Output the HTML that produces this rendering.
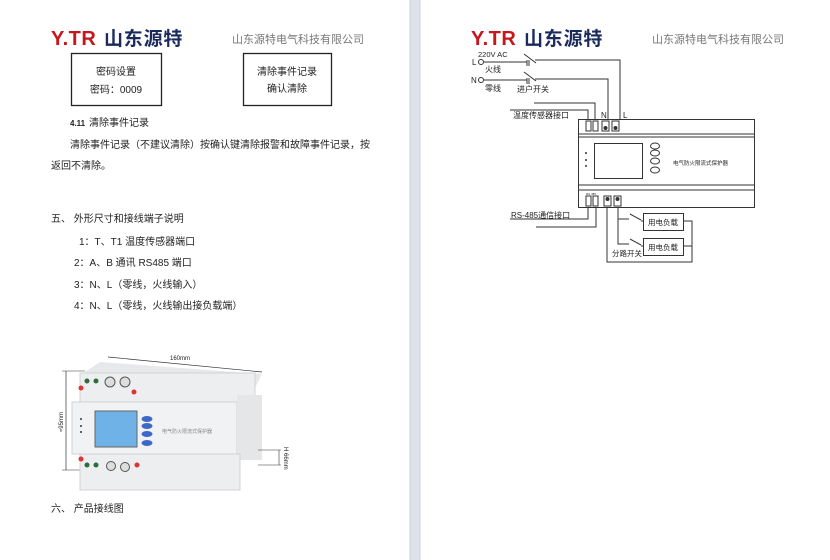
<!DOCTYPE html>
<html><head><meta charset="utf-8"><style>
html,body{margin:0;padding:0;background:#fff;}
svg{display:block}
text{font-family:"Liberation Sans","Noto Sans CJK SC",sans-serif;fill:#222}
</style></head><body>
<svg width="830" height="560" viewBox="0 0 830 560" xmlns="http://www.w3.org/2000/svg">
<rect width="830" height="560" fill="#fff"/>
<rect x="410" y="0" width="10" height="560" fill="#dde3e8"/>
<line x1="410" y1="0" x2="410" y2="560" stroke="#c9d0d6"/>
<line x1="420" y1="0" x2="420" y2="560" stroke="#cfd3d6"/>

<!-- LEFT PAGE -->
<text x="51" y="45" font-size="20" font-weight="bold" letter-spacing="0.5" style="fill:#c8161d">Y.TR</text>
<text x="104" y="45" font-size="19" font-weight="bold" letter-spacing="0.8" style="fill:#1a2a5c">山东源特</text>
<text x="232" y="43" font-size="11" style="fill:#777">山东源特电气科技有限公司</text>
<rect x="71.5" y="53.5" width="90" height="52" fill="none" stroke="#222" stroke-width="1.3"/>
<text x="116" y="75" font-size="10" text-anchor="middle">密码设置</text>
<text x="116" y="93" font-size="10" text-anchor="middle">密码：0009</text>
<rect x="243.5" y="53.5" width="88" height="52" fill="none" stroke="#222" stroke-width="1.3"/>
<text x="287" y="75" font-size="10" text-anchor="middle">清除事件记录</text>
<text x="287" y="92" font-size="10" text-anchor="middle">确认清除</text>
<text x="70" y="126" font-size="8" font-weight="bold">4.11</text>
<text x="89" y="126" font-size="10">清除事件记录</text>
<text x="70" y="148" font-size="10">清除事件记录（不建议清除）按确认键清除报警和故障事件记录，按</text>
<text x="51" y="169" font-size="10">返回不清除。</text>
<text x="51" y="222" font-size="10">五、  外形尺寸和接线端子说明</text>
<text x="79" y="245" font-size="10">1：T、T1 温度传感器端口</text>
<text x="74" y="266" font-size="10">2：A、B 通讯 RS485 端口</text>
<text x="74" y="288" font-size="10">3：N、L（零线，火线输入）</text>
<text x="74" y="309" font-size="10">4：N、L（零线，火线输出接负载端）</text>

<!-- device photo -->
<line x1="108" y1="357" x2="262" y2="372" stroke="#333" stroke-width="0.7"/>
<text x="170" y="360" font-size="6">160mm</text>
<line x1="66" y1="371" x2="66" y2="470" stroke="#333" stroke-width="0.7"/>
<line x1="62" y1="371" x2="85" y2="371" stroke="#333" stroke-width="0.5"/>
<line x1="62" y1="470" x2="85" y2="470" stroke="#333" stroke-width="0.5"/>
<text x="0" y="0" font-size="6" transform="translate(63,432) rotate(-90)">≈95mm</text>
<polygon points="85,372 100,362 262,374 255,388 85,380" fill="#e6e8ea"/>
<rect x="80" y="373" width="175" height="30" fill="#eceef0" stroke="#d0d3d6"/>
<rect x="72" y="402" width="165" height="52" fill="#f1f2f3" stroke="#cfd2d5"/>
<rect x="237" y="395" width="25" height="65" fill="#e4e6e8"/>
<rect x="80" y="454" width="160" height="36" fill="#eceef0" stroke="#d0d3d6"/>
<circle cx="87" cy="381" r="2.5" fill="#2c6b3c"/><circle cx="96" cy="381" r="2.5" fill="#2c6b3c"/>
<circle cx="110" cy="382" r="5" fill="#ddd" stroke="#555"/><circle cx="125" cy="382" r="5" fill="#ddd" stroke="#555"/>
<circle cx="81" cy="388" r="2.5" fill="#d33"/><circle cx="134" cy="392" r="2.5" fill="#d33"/>
<rect x="95" y="411" width="42" height="36" fill="#6fb2e8" stroke="#666"/>
<ellipse cx="147" cy="419" rx="5.5" ry="3" fill="#3d67c8"/>
<ellipse cx="147" cy="426" rx="5.5" ry="3" fill="#3d67c8"/>
<ellipse cx="147" cy="434" rx="5.5" ry="3" fill="#3d67c8"/>
<ellipse cx="147" cy="443" rx="5.5" ry="3" fill="#3d67c8"/>
<text x="162" y="433" font-size="5" style="fill:#888">电气防火限流式保护器</text>
<circle cx="81" cy="419" r="1" fill="#333"/><circle cx="81" cy="426" r="1" fill="#333"/><circle cx="81" cy="432" r="1" fill="#333"/>
<circle cx="81" cy="459" r="2.5" fill="#d33"/>
<circle cx="87" cy="465" r="2.5" fill="#2c6b3c"/><circle cx="96" cy="465" r="2.5" fill="#2c6b3c"/>
<circle cx="111" cy="466" r="4.5" fill="#ddd" stroke="#555"/><circle cx="125" cy="467" r="4.5" fill="#ddd" stroke="#555"/>
<circle cx="137" cy="465" r="2.5" fill="#d33"/>
<line x1="258" y1="450" x2="281" y2="450" stroke="#333" stroke-width="0.5"/>
<line x1="258" y1="465" x2="281" y2="465" stroke="#333" stroke-width="0.5"/>
<line x1="279" y1="450" x2="279" y2="465" stroke="#333" stroke-width="0.6"/>
<text x="0" y="0" font-size="6" transform="translate(284,447) rotate(90)">H 66mm</text>
<text x="51" y="512" font-size="10">六、  产品接线图</text>

<!-- RIGHT PAGE -->
<text x="471" y="45" font-size="20" font-weight="bold" letter-spacing="0.5" style="fill:#c8161d">Y.TR</text>
<text x="524" y="45" font-size="19" font-weight="bold" letter-spacing="0.8" style="fill:#1a2a5c">山东源特</text>
<text x="652" y="43" font-size="11" style="fill:#777">山东源特电气科技有限公司</text>
<g stroke="#333" stroke-width="1" fill="none">
<circle cx="481" cy="62" r="2.5"/><circle cx="481" cy="80" r="2.5"/>
<line x1="484" y1="62" x2="527" y2="62"/><line x1="484" y1="80" x2="527" y2="80"/>
<line x1="524" y1="54" x2="536" y2="63"/><line x1="524" y1="72" x2="536" y2="81"/>
<line x1="527" y1="60" x2="527" y2="66"/><line x1="529" y1="60" x2="529" y2="66"/>
<line x1="527" y1="78" x2="527" y2="84"/><line x1="529" y1="78" x2="529" y2="84"/>
<polyline points="535,60 620,60 620,119"/>
<polyline points="535,79 608,79 608,119"/>
<polyline points="534,103 595,103 595,119"/>
<polyline points="510,110 588,110 588,119"/>
<rect x="578.5" y="119.5" width="176" height="88"/>
<line x1="578" y1="134" x2="754" y2="134"/><line x1="578" y1="137" x2="754" y2="137"/>
<line x1="578" y1="185" x2="754" y2="185"/><line x1="578" y1="190" x2="754" y2="190"/>
<rect x="594.5" y="143.5" width="48" height="35"/>
<ellipse cx="655" cy="146" rx="4.5" ry="3"/><ellipse cx="655" cy="153" rx="4.5" ry="3"/>
<ellipse cx="655" cy="161" rx="4.5" ry="3"/><ellipse cx="655" cy="170" rx="4.5" ry="3"/>
<rect x="586" y="121" width="5" height="10"/><rect x="593" y="121" width="5" height="10"/>
<rect x="602" y="121" width="7" height="10"/><rect x="612" y="121" width="7" height="10"/>
<rect x="586" y="196" width="5" height="10"/><rect x="593" y="196" width="5" height="10"/>
<rect x="604" y="196" width="7" height="10"/><rect x="614" y="196" width="7" height="10"/>
<polyline points="588,207 588,219 510,219"/>
<polyline points="596,207 596,227 536,227"/>
<polyline points="618,207 618,219 629,219"/>
<line x1="630" y1="214" x2="641" y2="220"/>
<line x1="641" y1="221" x2="643" y2="221"/>
<polyline points="618,219 618,244 629,244"/>
<line x1="630" y1="239" x2="641" y2="245"/>
<line x1="641" y1="246" x2="643" y2="246"/>
<polyline points="607,207 607,262 692,262 692,221 683,221"/>
<line x1="683" y1="246" x2="692" y2="246"/>
<rect x="643.5" y="213.5" width="40" height="17"/>
<rect x="643.5" y="238.5" width="40" height="17"/>
</g>
<g fill="#333"><circle cx="586" cy="153" r="1"/><circle cx="586" cy="160" r="1"/><circle cx="586" cy="166" r="1"/>
<circle cx="605.5" cy="128" r="2"/><circle cx="615.5" cy="128" r="2"/>
<circle cx="607.5" cy="199" r="2"/><circle cx="617.5" cy="199" r="2"/></g>
<text x="478" y="57" font-size="7.5">220V  AC</text>
<text x="472" y="65" font-size="8">L</text>
<text x="471" y="83" font-size="8">N</text>
<text x="485" y="72" font-size="8">火线</text>
<text x="485" y="91" font-size="8">零线</text>
<text x="517" y="92" font-size="8">进户开关</text>
<text x="513" y="118" font-size="8">温度传感器接口</text>
<text x="601" y="118" font-size="8">N</text>
<text x="623" y="118" font-size="8">L</text>
<text x="673" y="165" font-size="5.5">电气防火限流式保护器</text>
<text x="511" y="218" font-size="8">RS-485通信接口</text>
<text x="586" y="195" font-size="3">RS 485</text>
<text x="663" y="225" font-size="7.5" text-anchor="middle">用电负载</text>
<text x="663" y="250" font-size="7.5" text-anchor="middle">用电负载</text>
<text x="612" y="256" font-size="7.5">分路开关</text>
</svg>
</body></html>
